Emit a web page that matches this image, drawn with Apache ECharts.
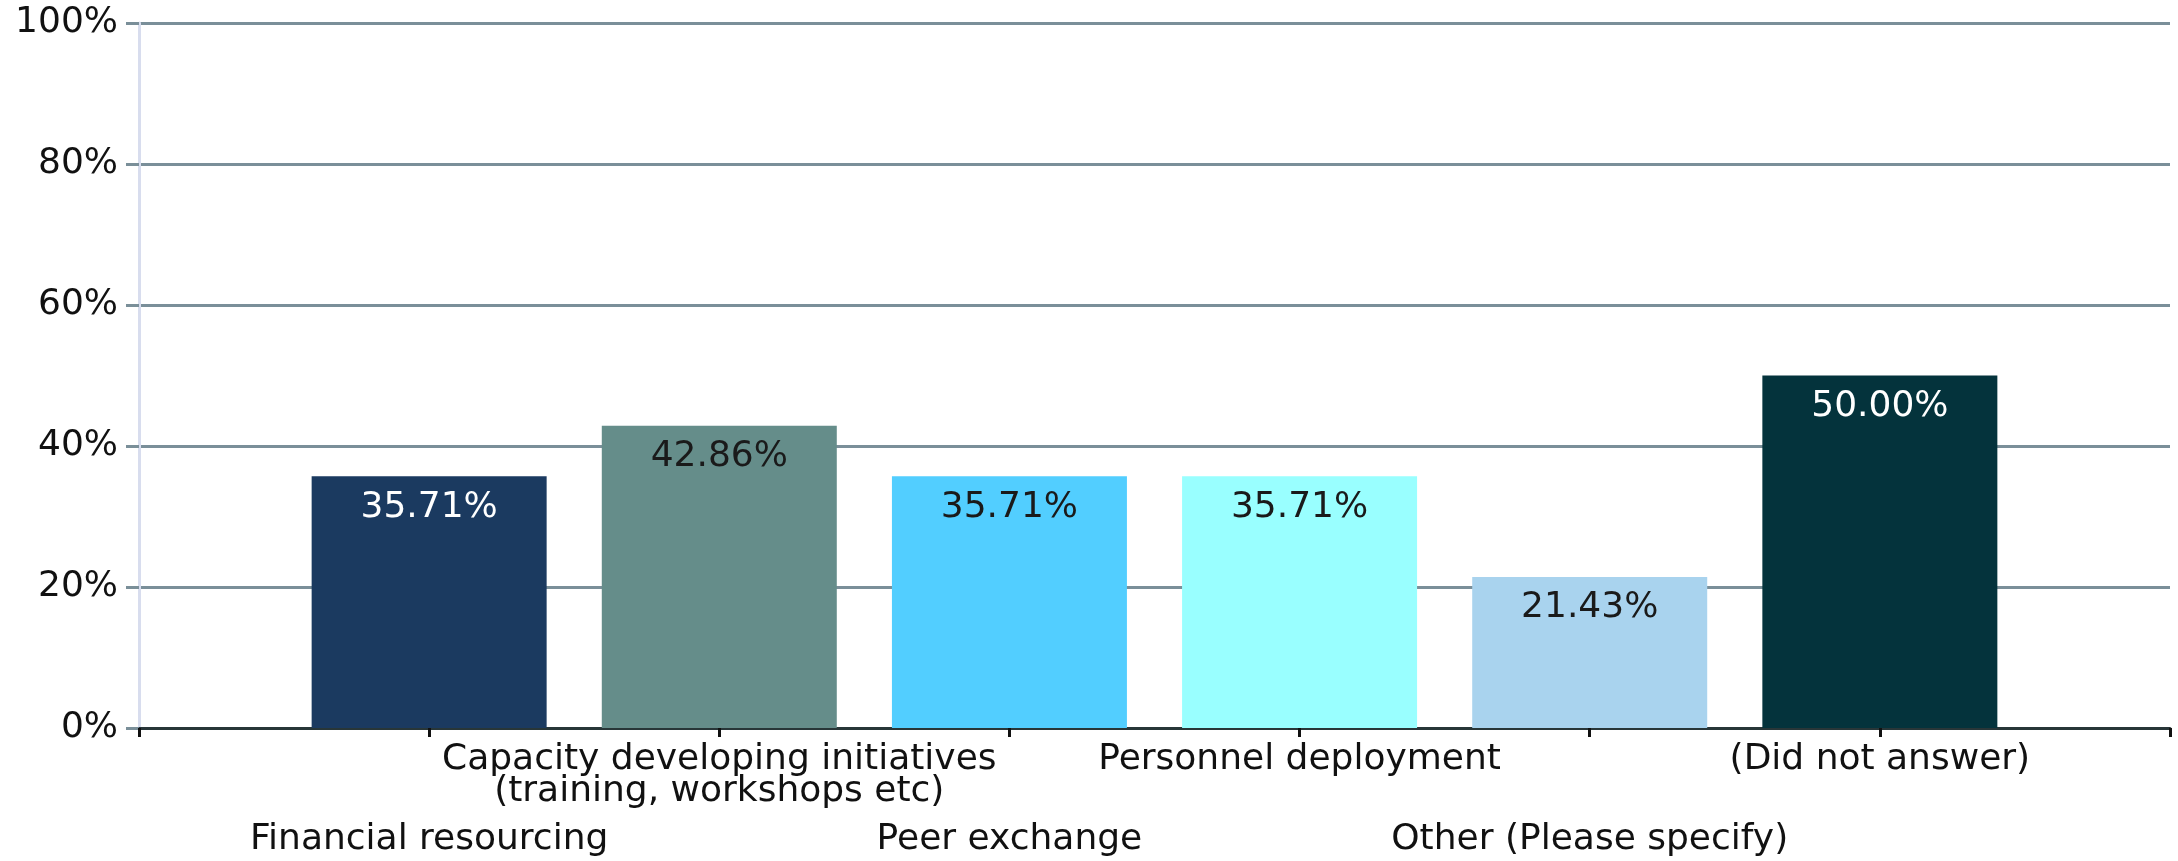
<!DOCTYPE html>
<html>
<head>
<meta charset="utf-8">
<script src="https://cdn.jsdelivr.net/npm/echarts@6/dist/echarts.min.js"></script>
<style>
html,body{margin:0;padding:0;background:#fff;}
#chart{width:2178px;height:861px;}
</style>
</head>
<body>
<div id="chart"></div>
<script>
// ---- data ----
const categories = [
  "Financial resourcing",
  "Capacity developing initiatives\n(training, workshops etc)",
  "Peer exchange",
  "Personnel deployment",
  "Other (Please specify)",
  "(Did not answer)"
];
const values = [35.71, 42.86, 35.71, 35.71, 21.43, 50.00];
const barColors = ["#1B3A60", "#658D8A", "#52CEFF", "#99FFFF", "#A9D3EE", "#04333C"];
const labelColors = ["#FFFFFF", "#1A1A1A", "#1A1A1A", "#1A1A1A", "#1A1A1A", "#FFFFFF"];
const yTicks = [0, 20, 40, 60, 80, 100];

// ---- build options ----
const axisData = [""].concat(categories).concat([""]);
const seriesData = [null].concat(values.map((v, i) => ({
  value: v,
  itemStyle: { color: barColors[i] },
  label: { color: labelColors[i] }
}))).concat([null]);

const FONT = "DejaVu Sans";
const FS = 36;
const chart = echarts.init(document.getElementById('chart'), null, { renderer: 'canvas' });
chart.setOption({
  animation: false,
  backgroundColor: '#ffffff',
  grid: { left: 139, right: 8, top: 23, bottom: 133, containLabel: false },
  xAxis: [
    {
      type: 'category',
      data: axisData,
      boundaryGap: false,
      position: 'bottom',
      axisLine: { show: true, lineStyle: { color: '#283638', width: 3 } },
      axisTick: { show: true, length: 9, alignWithLabel: true, interval: 0, lineStyle: { color: '#111111', width: 3 } },
      axisLabel: {
        interval: (idx) => idx > 0 && idx < axisData.length - 1 && idx % 2 === 0,
        margin: 16,
        fontFamily: FONT, fontSize: FS, lineHeight: 32, color: '#111111', align: 'center'
      },
      splitLine: { show: false }
    },
    {
      type: 'category',
      data: axisData,
      boundaryGap: false,
      position: 'bottom',
      axisLine: { show: false },
      axisTick: { show: false },
      axisLabel: {
        interval: (idx) => idx % 2 === 1 && idx < axisData.length - 1,
        margin: 96,
        fontFamily: FONT, fontSize: FS, lineHeight: 32, color: '#111111', align: 'center'
      },
      splitLine: { show: false }
    }
  ],
  yAxis: {
    type: 'value',
    min: yTicks[0],
    max: yTicks[yTicks.length - 1],
    interval: yTicks[1] - yTicks[0],
    axisLine: { show: true, lineStyle: { color: '#D8DDEE', width: 3 } },
    axisTick: { show: true, length: 13, lineStyle: { color: '#7A8F99', width: 3 } },
    axisLabel: {
      margin: 21,
      fontFamily: FONT, fontSize: FS, color: '#111111',
      formatter: (v) => v + '%'
    },
    splitLine: { show: true, lineStyle: { color: '#7A8F99', width: 3 } }
  },
  series: [{
    type: 'bar',
    xAxisIndex: 0,
    data: seriesData,
    barWidth: 235,
    label: {
      show: true,
      position: 'insideTop',
      distance: 13,
      fontFamily: FONT, fontSize: FS,
      formatter: (p) => p.value.toFixed(2) + '%'
    }
  }]
});
</script>
</body>
</html>
